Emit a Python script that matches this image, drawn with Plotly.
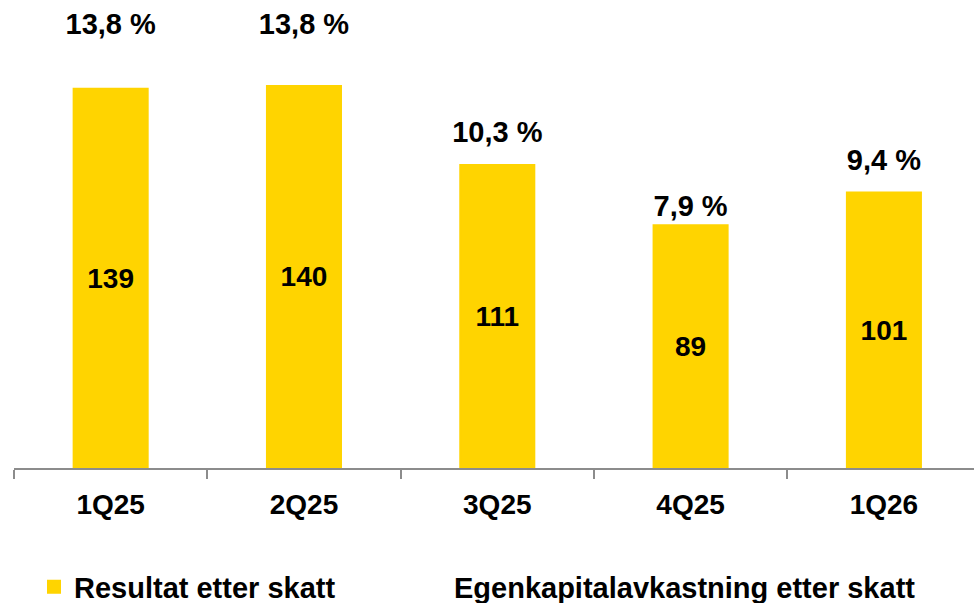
import plotly.graph_objects as go

categories = ["1Q25", "2Q25", "3Q25", "4Q25", "1Q26"]
resultat = [139, 140, 111, 89, 101]
ekavk = [13.8, 13.8, 10.3, 7.9, 9.4]
ekavk_labels = ["13,8 %", "13,8 %", "10,3 %", "7,9 %", "9,4 %"]

YELLOW = "#FFD400"
FONT = "Liberation Sans"
FS = 28
PFS = 29
LFS = 29

fig = go.Figure()
fig.add_trace(go.Bar(
    x=categories, y=resultat, name="Resultat etter skatt",
    marker=dict(color=YELLOW, line=dict(color=YELLOW, width=2)),
    text=[str(v) for v in resultat], textposition="inside",
    insidetextanchor="middle", textangle=0, constraintext="none",
    insidetextfont=dict(family=FONT, size=FS, color="black", weight="bold"),
    hoverinfo="skip", legend="legend",
))
fig.add_trace(go.Scatter(
    x=categories, y=ekavk, name="Egenkapitalavkastning etter skatt",
    yaxis="y2", mode="lines+text", line=dict(color="rgba(0,0,0,0)"),
    text=ekavk_labels, textposition="middle center",
    textfont=dict(family=FONT, size=PFS, color="black", weight="bold"),
    cliponaxis=False, hoverinfo="skip", legend="legend2",
))

legend_common = dict(
    orientation="h", xref="container", yref="container",
    xanchor="left", y=(603 - 587) / 603, yanchor="middle",
    font=dict(family=FONT, size=LFS, color="black", weight="bold"),
    bgcolor="rgba(0,0,0,0)",
)

fig.update_layout(
    width=974, height=603,
    margin=dict(l=14, r=0, t=0, b=135, autoexpand=False),
    paper_bgcolor="white", plot_bgcolor="white",
    bargap=0.617,
    font=dict(family=FONT, size=FS, color="black", weight="bold"),
    xaxis=dict(
        type="category", range=[-0.5, 4.466], automargin=False,
        showline=True, linecolor="#8c8c8c", linewidth=1.5,
        ticks="outside", tickson="boundaries", ticklen=9, tickcolor="#8c8c8c",
        tickwidth=1.5, showgrid=False, ticklabelstandoff=11,
        tickfont=dict(family=FONT, size=FS, color="black", weight="bold"),
    ),
    yaxis=dict(range=[0, 171.5], visible=False, showgrid=False, zeroline=False),
    yaxis2=dict(range=[-0.55, 14.685], overlaying="y", visible=False,
                showgrid=False, zeroline=False),
    showlegend=True,
    legend=dict(x=34 / 974, **legend_common),
    legend2=dict(x=414 / 974, **legend_common),
)

fig.write_html(
    "out.html",
    config={"displayModeBar": False},
    post_script="document.body.style.margin='0';document.body.style.padding='0';",
)
